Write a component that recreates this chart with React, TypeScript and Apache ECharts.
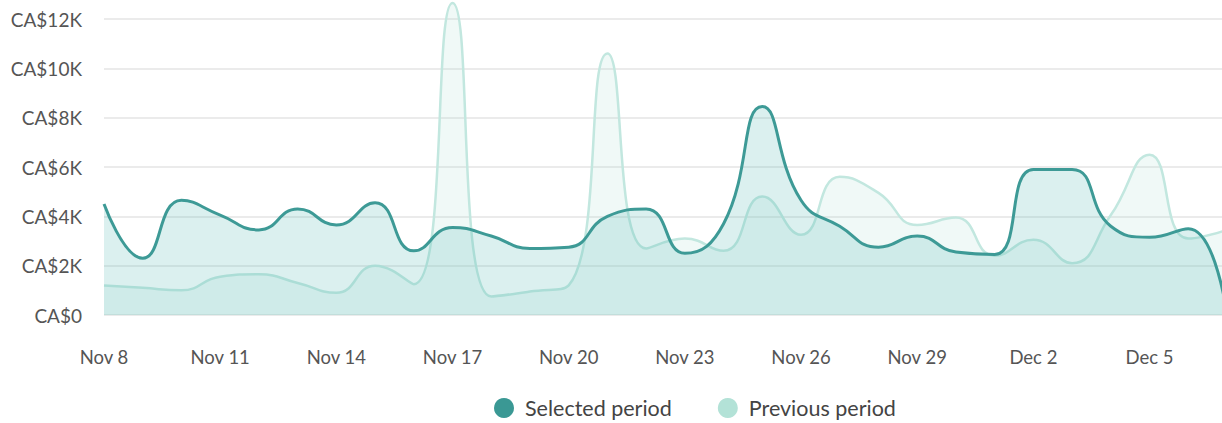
import React, { useEffect, useRef } from "react";
import * as echarts from "echarts";

const dates = [
  "Nov 8", "Nov 9", "Nov 10", "Nov 11", "Nov 12", "Nov 13", "Nov 14", "Nov 15",
  "Nov 16", "Nov 17", "Nov 18", "Nov 19", "Nov 20", "Nov 21", "Nov 22", "Nov 23",
  "Nov 24", "Nov 25", "Nov 26", "Nov 27", "Nov 28", "Nov 29", "Nov 30", "Dec 1",
  "Dec 2", "Dec 3", "Dec 4", "Dec 5", "Dec 6", "Dec 7",
];

const selectedPeriod = [
  4500, 2300, 4650, 4050, 3450, 4300, 3650, 4550, 2600, 3550,
  3200, 2700, 2750, 4000, 4300, 2500, 3700, 8450, 4650, 3600,
  2750, 3200, 2550, 2450, 5900, 5900, 3600, 3150, 3500, 0,
];

const previousPeriod = [
  1200, 1100, 1000, 1550, 1650, 1300, 900, 2000, 1250, 12650,
  750, 950, 1200, 10600, 2700, 3100, 2600, 4800, 3250, 5600,
  4950, 3650, 3950, 2400, 3050, 2100, 4050, 6500, 3100, 3450,
];

const seriesNames = ["Selected period", "Previous period"];

export default function App() {
  const ref = useRef<HTMLDivElement>(null);
  useEffect(() => {
    if (!ref.current) return;
    const chart = echarts.init(ref.current, undefined, { renderer: "svg" });
    const font = "Lato, 'Open Sans', sans-serif";
    chart.setOption({
      animation: false,
      grid: { left: 104, right: 13, top: 19, bottom: 108 },
      legend: {
        data: seriesNames,
        top: 392,
        left: 489,
        icon: "circle",
        itemWidth: 20,
        itemHeight: 20,
        itemGap: 46,
        textStyle: { fontFamily: font, fontSize: 21.5, color: "#444", padding: [0, 0, 0, 6] },
      },
      xAxis: {
        type: "category",
        data: dates,
        boundaryGap: false,
        axisLine: { show: false },
        axisTick: { show: false },
        axisLabel: {
          interval: 2,
          margin: 32,
          fontFamily: font,
          fontSize: 18.5,
          color: "#555",
        },
      },
      yAxis: {
        type: "value",
        min: 0,
        max: 12000,
        interval: 2000,
        axisLine: { show: false },
        axisTick: { show: false },
        splitLine: { lineStyle: { color: "#ebebeb", width: 2 } },
        axisLabel: {
          margin: 22,
          fontFamily: font,
          fontSize: 19,
          color: "#555",
          formatter: (v: number) => (v === 0 ? "CA$0" : "CA$" + v / 1000 + "K"),
        },
      },
      series: [
        {
          name: seriesNames[1],
          type: "line",
          data: previousPeriod,
          smooth: 0.5,
          clip: false,
          symbol: "none",
          itemStyle: { color: "#b3e2d7" },
          lineStyle: { color: "#c2e7df", width: 2.5 },
          areaStyle: { color: "rgba(170,222,212,0.25)" },
          z: 2,
        },
        {
          name: seriesNames[0],
          type: "line",
          data: selectedPeriod,
          smooth: 0.5,
          clip: false,
          symbol: "none",
          itemStyle: { color: "#3a9894" },
          lineStyle: { color: "#3d9a96", width: 3 },
          areaStyle: { color: "rgba(96,188,182,0.32)" },
          z: 3,
        },
      ],
    });
    return () => chart.dispose();
  }, []);
  return (
    <div
      style={{
        position: "fixed",
        left: 0,
        top: 0,
        width: "100vw",
        height: "100vh",
        overflow: "hidden",
        background: "#fff",
      }}
    >
      <div ref={ref} style={{ width: 1240, height: 423 }} />
    </div>
  );
}
